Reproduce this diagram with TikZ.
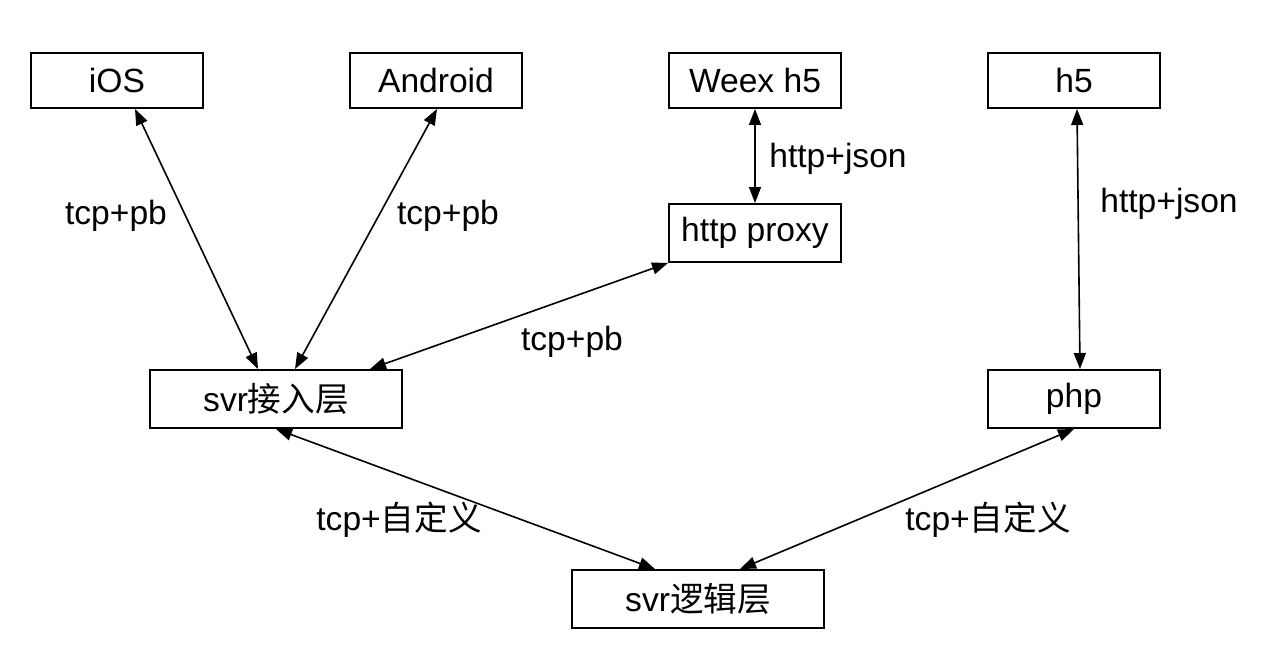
\documentclass[tikz,border=0pt]{standalone}
\usepackage{fontspec}
\setmainfont{Liberation Sans}
\newfontfamily\cjk{Noto Sans CJK SC}
\usetikzlibrary{arrows.meta,calc}
\begin{document}
\begin{tikzpicture}[x=0.5pt,y=-0.5pt,
  box/.style={draw=black,line width=1pt,fill=white,inner sep=0pt,minimum width=86pt,minimum height=29pt,font=\fontsize{16.8}{19}\selectfont},
  wide/.style={box,minimum width=126pt},
  top/.style={box,minimum height=27.5pt},
  lbl/.style={font=\fontsize{16.8}{19}\selectfont,inner sep=0pt},
  link/.style={line width=0.8pt,{Triangle[length=8pt,width=6pt]}-{Triangle[length=8pt,width=6pt]}}]
\useasboundingbox (0,0) rectangle (1274,658);
\node[top] (ios) at (117,80.5) {iOS};
\node[top] (android) at (436,80.5) {Android};
\node[top] (weex) at (755,80.5) {Weex h5};
\node[top] (h5) at (1074,80.5) {h5};
\node[box] (proxy) at (755,233) {http proxy};
\node[wide] (svr) at (276,399) {svr{\cjk 接入层}};
\node[box] (php) at (1074,399) {php};
\node[wide] (logic) at (698,599) {svr{\cjk 逻辑层}};
\draw[link] ($(ios.south)+(18,0)$) -- ($(svr.north)+(-18,0)$);
\draw[link] ($(android.south)+(1,0)$) -- ($(svr.north)+(19,0)$);
\draw[link] (weex.south) -- (proxy.north);
\draw[link] (proxy.south west) -- ($(svr.north)+(94,0)$);
\draw[link] ($(h5.south)+(3,0)$) -- ($(php.north)+(6,0)$);
\draw[link] (svr.south) -- ($(logic.north)+(-43,0)$);
\draw[link] (php.south) -- ($(logic.north)+(42,0)$);
\node[lbl] (l1) at (116,216) {tcp+pb};
\node[lbl] (l2) at (448,216) {tcp+pb};
\node[lbl] (l3) at (838,159) {http+json};
\node[lbl] (l4) at (572,342) {tcp+pb};
\node[lbl] (l5) at (1169,204) {http+json};
\node[lbl] (l6) at (399,520) {tcp+{\cjk 自定义}};
\node[lbl] (l7) at (988,520) {tcp+{\cjk 自定义}};
\end{tikzpicture}
\end{document}
